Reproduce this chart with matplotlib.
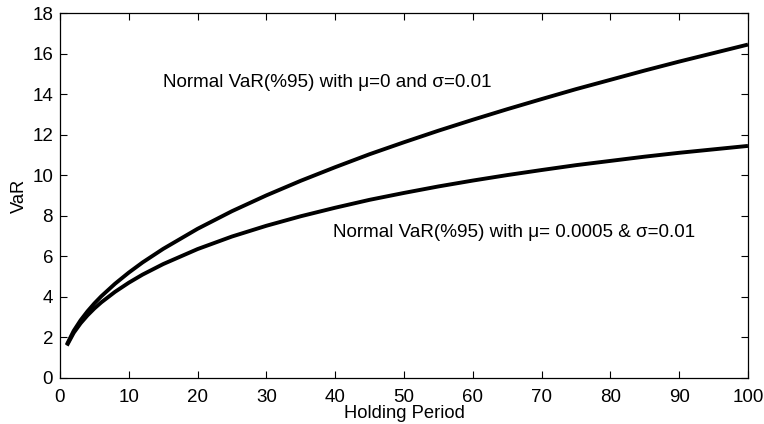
import matplotlib
matplotlib.use("Agg")
import matplotlib.pyplot as plt

plt.rcParams['font.family'] = ['Liberation Sans', 'DejaVu Sans']

# Holding periods (days) and the 95% VaR read for each curve
holding_period = [1, 2, 3, 4, 5, 6, 8, 10, 12, 15, 20, 25, 30, 35, 40, 45, 50,
                  55, 60, 65, 70, 75, 80, 85, 90, 95, 100]
var_mu0 = [1.65, 2.33, 2.85, 3.29, 3.68, 4.03, 4.65, 5.20, 5.70, 6.37, 7.36,
           8.23, 9.01, 9.73, 10.40, 11.04, 11.63, 12.20, 12.74, 13.26, 13.76,
           14.25, 14.71, 15.17, 15.61, 16.03, 16.45]
var_mu0005 = [1.60, 2.23, 2.70, 3.09, 3.43, 3.73, 4.25, 4.70, 5.10, 5.62, 6.36,
              6.98, 7.51, 7.98, 8.40, 8.79, 9.13, 9.45, 9.74, 10.01, 10.26,
              10.50, 10.71, 10.92, 11.11, 11.28, 11.45]

label_mu0 = "Normal VaR(%95) with \u03bc=0 and \u03c3=0.01"
label_mu0005 = "Normal VaR(%95) with \u03bc= 0.0005 & \u03c3=0.01"

fig = plt.figure(figsize=(7.64, 4.24), dpi=100)
ax = fig.add_axes([0.0785, 0.1085, 0.9005, 0.8605])

ax.plot(holding_period, var_mu0, color='black', lw=2.8, solid_capstyle='butt')
ax.plot(holding_period, var_mu0005, color='black', lw=2.8, solid_capstyle='butt')

ax.set_xlim(0, 100)
ax.set_ylim(0, 18)
ax.set_xticks(range(0, 101, 10))
ax.set_yticks(range(0, 19, 2))
ax.tick_params(direction='in', top=True, right=True, length=5, width=0.8,
               labelsize=13.5, colors='black')
ax.tick_params(axis='x', pad=8)
ax.tick_params(axis='y', pad=5)
for s in ax.spines.values():
    s.set_linewidth(0.9)

ax.set_xlabel("Holding Period", fontsize=13.2, labelpad=-1)
ax.set_ylabel("VaR", fontsize=13.2, labelpad=3)

ax.text(15.0, 14.6, label_mu0, fontsize=13.6, va='center', ha='left')
ax.text(39.7, 7.2, label_mu0005, fontsize=13.6, va='center', ha='left')

fig.savefig("out.png", dpi=100)
